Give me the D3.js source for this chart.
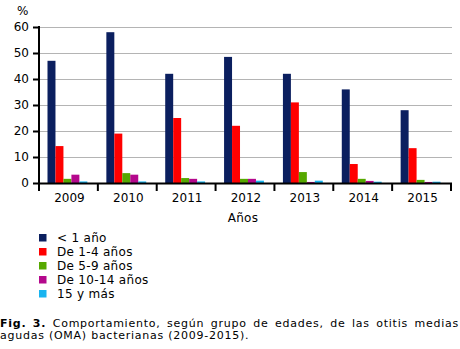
<!DOCTYPE html>
<html>
<head>
<meta charset="utf-8">
<script src="https://cdn.jsdelivr.net/npm/d3@7"></script>
<style>
  html, body { margin: 0; padding: 0; background: #fff; }
  svg { display: block; }
  text { font-family: "DejaVu Sans", Verdana, sans-serif; font-size: 12px; fill: #000; }
  .wide { letter-spacing: 0.3px; }
  .cap { font-size: 11px; letter-spacing: 0.75px; }
</style>
</head>
<body>
<script>
// Años y grupos de edad
const years = ["2009", "2010", "2011", "2012", "2013", "2014", "2015"];
const groups = ["< 1 año", "De 1-4 años", "De 5-9 años", "De 10-14 años", "15 y más"];
const colors = ["#0b1f5f", "#ff0000", "#56a800", "#b4088c", "#18b4f0"];

// Porcentaje de OMA bacterianas por grupo de edad (una serie por grupo)
const menos1 = [47, 58, 42, 48.5, 42, 36, 28];
const de1a4 = [14.2, 19, 25, 22, 31, 7.3, 13.4];
const de5a9 = [1.6, 3.8, 1.9, 1.6, 4.2, 1.6, 1.2];
const de10a14 = [3.2, 3.2, 1.6, 1.6, 0.4, 0.8, 0.4];
const mas15 = [0.6, 0.6, 0.6, 0.9, 0.9, 0.5, 0.5];
const yTicks = [0, 10, 20, 30, 40, 50, 60];

const series = [menos1, de1a4, de5a9, de10a14, mas15];

const W = 460, H = 349;
const svg = d3.select("body").append("svg").attr("width", W).attr("height", H);

const x0 = d3.scaleBand().domain(years).range([39, 451]).padding(0);
const x1 = d3.scaleBand().domain(d3.range(groups.length))
  .range([8.5, x0.bandwidth() - 10.5]).padding(0);
const y = d3.scaleLinear().domain([0, 60]).range([183, 27]);

// Líneas de cuadrícula
svg.append("g").selectAll("line").data(yTicks.filter(d => d > 0)).join("line")
  .attr("x1", 39).attr("x2", 452)
  .attr("y1", d => Math.round(y(d)) + 0.5).attr("y2", d => Math.round(y(d)) + 0.5)
  .attr("stroke", "#b4b4b4").attr("stroke-width", 1);

// Barras
const gYear = svg.append("g").selectAll("g").data(years).join("g")
  .attr("transform", d => `translate(${x0(d)},0)`);
gYear.selectAll("rect")
  .data((yr, i) => series.map((s, k) => ({ k, v: s[i] })))
  .join("rect")
  .attr("x", d => x1(d.k))
  .attr("width", x1.bandwidth())
  .attr("y", d => y(d.v))
  .attr("height", d => y(0) - y(d.v))
  .attr("fill", d => colors[d.k]);

// Eje Y
const yAxis = d3.axisLeft(y).tickValues(yTicks).tickSize(6).tickPadding(4).tickFormat(d3.format("d"));
const gy = svg.append("g").attr("transform", "translate(39,0)").call(yAxis);
gy.select(".domain").remove();
gy.selectAll(".tick line").attr("stroke", "#000").attr("stroke-width", 2);
gy.selectAll(".tick text").attr("font-size", 12).attr("font-family", "DejaVu Sans, Verdana, sans-serif");
svg.append("line").attr("x1", 39).attr("x2", 39).attr("y1", 26).attr("y2", 191)
  .attr("stroke", "#000").attr("stroke-width", 2);

// Eje X
svg.append("line").attr("x1", 38).attr("x2", 452).attr("y1", y(0) + 0.5).attr("y2", y(0) + 0.5)
  .attr("stroke", "#000").attr("stroke-width", 2);
const bounds = years.map(d => x0(d)).concat([x0.range()[1]]);
svg.append("g").selectAll("line").data(bounds).join("line")
  .attr("x1", d => d).attr("x2", d => d).attr("y1", y(0)).attr("y2", 191)
  .attr("stroke", "#000").attr("stroke-width", 2);
svg.append("g").selectAll("text").data(years).join("text")
  .attr("x", d => x0(d) + x0.bandwidth() / 2 + 1).attr("y", 202)
  .attr("text-anchor", "middle").text(d => d);

svg.append("text").attr("x", 17).attr("y", 15).text("%");
svg.append("text").attr("class", "wide").attr("x", 243).attr("y", 222).attr("text-anchor", "middle").text("Años");

// Leyenda
const leg = svg.append("g").selectAll("g").data(groups).join("g")
  .attr("transform", (d, i) => `translate(39,${234 + i * 14})`);
leg.append("rect").attr("width", 7.5).attr("height", 7.5).attr("fill", (d, i) => colors[i]);
leg.append("text").attr("class", "wide").attr("x", 18).attr("y", 8).text(d => d);

// Pie de figura, justificado en la primera línea
function justified(words, yb, x0p, x1p, boldCount) {
  const g = svg.append("g");
  const nodes = words.map((w, i) => g.append("text").attr("class", "cap").attr("y", yb)
    .attr("font-weight", i < boldCount ? "bold" : "normal").text(w));
  const widths = nodes.map(n => n.node().getComputedTextLength());
  const total = d3.sum(widths);
  const gap = (x1p - x0p - total) / (words.length - 1);
  let cx = x0p;
  nodes.forEach((n, i) => { n.attr("x", cx); cx += widths[i] + gap; });
}
justified(["Fig.", "3.", "Comportamiento,", "según", "grupo", "de", "edades,", "de", "las", "otitis", "medias"], 327, 0, 459, 2);
svg.append("text").attr("class", "cap").attr("x", 0).attr("y", 338.5).text("agudas (OMA) bacterianas (2009-2015).");
</script>
</body>
</html>
